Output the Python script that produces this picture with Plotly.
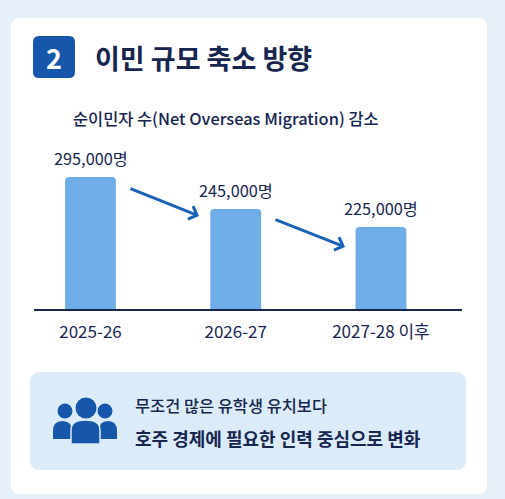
import plotly.graph_objects as go

W, H = 505, 499

# data
categories = ["2025-26", "2026-27", "2027-28 이후"]
value_labels = ["295,000명", "245,000명", "225,000명"]
# bars in the picture are not to scale with their labels, so heights are as drawn
bar_heights = [132, 100, 82]

FONT = "Noto Sans CJK KR"
NAVY = "#16264f"
BLUE = "#1757ab"
CALLOUT = "#dcebf8"


def px(x):
    return x / W


def py(y):
    return 1 - y / H


def round_rect(x0, y0, x1, y1, r):
    return (f"M{px(x0 + r)},{py(y0)} L{px(x1 - r)},{py(y0)} Q{px(x1)},{py(y0)} {px(x1)},{py(y0 + r)} "
            f"L{px(x1)},{py(y1 - r)} Q{px(x1)},{py(y1)} {px(x1 - r)},{py(y1)} "
            f"L{px(x0 + r)},{py(y1)} Q{px(x0)},{py(y1)} {px(x0)},{py(y1 - r)} "
            f"L{px(x0)},{py(y0 + r)} Q{px(x0)},{py(y0)} {px(x0 + r)},{py(y0)} Z")


def panel(x0, y0, x1, y1, r, color):
    return dict(type="path", path=round_rect(x0, y0, x1, y1, r), xref="paper", yref="paper",
                fillcolor=color, line_width=0, layer="below")


def circle(cx, cy, r):
    return dict(type="circle", xref="paper", yref="paper", x0=px(cx - r), x1=px(cx + r),
                y0=py(cy + r), y1=py(cy - r), fillcolor=BLUE, line_width=0, layer="above")


def body(x0, y0, x1, y1, outline=0):
    # shoulders of the people icon
    mid = (x0 + x1) / 2
    p = (f"M{px(x0)},{py(y1)} L{px(x0)},{py(y0 + 10)} Q{px(x0)},{py(y0)} {px(mid)},{py(y0)} "
         f"Q{px(x1)},{py(y0)} {px(x1)},{py(y0 + 10)} L{px(x1)},{py(y1)} Z")
    return dict(type="path", path=p, xref="paper", yref="paper", fillcolor=BLUE,
                line=dict(width=outline, color=CALLOUT), layer="above")


def label(x, y, text, size, color=NAVY, anchor="left", weight=400):
    return dict(x=px(x), y=py(y), xref="paper", yref="paper", text=text, showarrow=False,
                xanchor=anchor, yanchor="middle",
                font=dict(family=FONT, size=size, color=color, weight=weight))


def arrow(x0, y0, x1, y1):
    return dict(x=px(x1), y=py(y1), ax=x0 - x1, ay=y0 - y1, xref="paper", yref="paper",
                axref="pixel", ayref="pixel", text="", showarrow=True, arrowhead=4,
                arrowsize=0.9, arrowwidth=3, arrowcolor="#1c62b8")


fig = go.Figure(go.Bar(x=categories, y=bar_heights, width=0.35, marker_color="#6fade8",
                       marker_line_width=0, hoverinfo="skip"))

annotations = [
    label(93, 57, "이민 규모 축소 방향", 27, weight=700),
    label(54, 57, "2", 27, color="white", anchor="center", weight=700),
    label(71, 118, "순이민자 수(Net Overseas Migration) 감소", 16.4, weight=500),
    label(133, 405, "무조건 많은 유학생 유치보다", 16.4, weight=500),
    label(133, 438, "호주 경제에 필요한 인력 중심으로 변화", 18, weight=700),
    arrow(129, 188, 199, 216),
    arrow(274, 219, 345, 247),
]
for cat, h, txt in zip(categories, bar_heights, value_labels):
    annotations.append(dict(x=cat, y=h, xref="x", yref="y", text=txt, showarrow=False,
                            yanchor="bottom", yshift=5,
                            font=dict(family=FONT, size=16.3, color=NAVY)))

shapes = [
    panel(11, 18, 487, 494, 9, "#ffffff"),
    panel(33, 36, 75, 78, 6, BLUE),
    panel(30, 372, 466, 470, 11, CALLOUT),
    body(53, 421, 72, 439),
    body(99, 421, 117, 439),
    body(71, 420, 100, 444, outline=1.5),
    circle(65, 411, 7.5),
    circle(105, 411, 7.5),
    circle(86, 408, 10.5),
]

fig.update_layout(
    width=W, height=H, margin=dict(l=0, r=0, t=0, b=0, pad=0, autoexpand=False),
    paper_bgcolor="#e8f1fa", plot_bgcolor="rgba(0,0,0,0)", showlegend=False, barcornerradius=4,
    shapes=shapes, annotations=annotations,
    xaxis=dict(domain=[px(34), px(462)], range=[-0.389, 2.558], type="category",
               showline=True, linecolor=NAVY, linewidth=1.5, showgrid=False, ticks="",
               ticklabelstandoff=7, tickfont=dict(family=FONT, size=17, color=NAVY),
               fixedrange=True),
    yaxis=dict(domain=[py(309), py(120)], range=[0, 189], visible=False, fixedrange=True),
)

fig.write_html("out.html", config=dict(displayModeBar=False),
               post_script="document.body.style.margin='0';")
